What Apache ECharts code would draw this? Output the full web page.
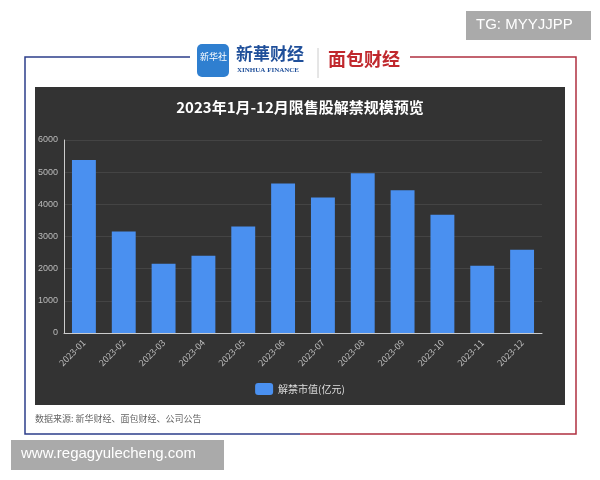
<!DOCTYPE html>
<html><head><meta charset="utf-8">
<script src="https://cdn.jsdelivr.net/npm/echarts@6/dist/echarts.min.js"></script>
<style>html,body{margin:0;padding:0;background:#fff}#c{width:600px;height:480px}</style>
</head><body><div id="c"></div>
<script>
const categories=['2023-01','2023-02','2023-03','2023-04','2023-05','2023-06','2023-07','2023-08','2023-09','2023-10','2023-11','2023-12'];
const values=[5380,3155,2150,2400,3310,4650,4210,4965,4440,3680,2090,2585];
const seriesName='解禁市值(亿元)';
const chart=echarts.init(document.getElementById('c'));
const F='"Noto Sans CJK SC", sans-serif';
chart.setOption({
  backgroundColor:'#fff',
  animation:false,
  title:{text:'2023年1月-12月限售股解禁规模预览',left:'center',top:95,textStyle:{color:'#fff',fontSize:15,fontWeight:'bold',fontFamily:F}},
  graphic:[
    {type:'polyline',shape:{points:[[190,57],[25,57],[25,434],[300,434]]},style:{stroke:'#2c3e8a',lineWidth:1.5,fill:null}},
    {type:'polyline',shape:{points:[[410,57],[576,57],[576,434],[300,434]]},style:{stroke:'#b03040',lineWidth:1.5,fill:null}},
    {type:'rect',z:-1,shape:{x:35,y:87,width:530,height:318},style:{fill:'#333333'}},
    {type:'rect',shape:{x:197,y:44,width:32,height:33,r:5},style:{fill:'#2f7fd0'}},
    {type:'text',x:200,y:52,style:{text:'新华社',fill:'#fff',font:'9px '+F}},
    {type:'text',x:236,y:45,style:{text:'新華财经',fill:'#1f4f9a',font:'bold 17px '+F}},
    {type:'text',x:237,y:67,style:{text:'XINHUA FINANCE',fill:'#1f4f9a',font:'bold 7px serif'}},
    {type:'line',shape:{x1:318,y1:48,x2:318,y2:78},style:{stroke:'#ccc'}},
    {type:'text',x:328,y:50,style:{text:'面包财经',fill:'#c0282d',font:'bold 18px '+F}},
    {type:'rect',shape:{x:466,y:11,width:125,height:29},style:{fill:'#aaaaaa'}},
    {type:'text',x:476,y:17,style:{text:'TG: MYYJJPP',fill:'#fff',font:'15px "Liberation Sans"'}},
    {type:'rect',shape:{x:11,y:440,width:213,height:30},style:{fill:'#aaaaaa'}},
    {type:'text',x:21,y:446,style:{text:'www.regagyulecheng.com',fill:'#fff',font:'15px "Liberation Sans"'}},
    {type:'text',x:35,y:414,style:{text:'数据来源: 新华财经、面包财经、公司公告',fill:'#666',font:'9px '+F}}
  ],
  legend:{data:[seriesName],top:378,left:'center',itemWidth:18,itemHeight:12,textStyle:{color:'#ddd',fontSize:10,fontFamily:F}},
  grid:{left:64,right:58,top:140,bottom:147},
  xAxis:{type:'category',data:categories,axisLine:{lineStyle:{color:'#ccc'}},axisTick:{lineStyle:{color:'#ccc'}},
    axisLabel:{color:'#bbb',fontSize:9,rotate:45,interval:0,fontFamily:F}},
  yAxis:{type:'value',min:0,max:6000,interval:1000,axisLine:{show:true,lineStyle:{color:'#ccc'}},
    axisLabel:{color:'#bbb',fontSize:9,margin:6,formatter:v=>String(v)},splitLine:{lineStyle:{color:'#444'}}},
  series:[{name:seriesName,type:'bar',data:values,barWidth:'60%',itemStyle:{color:'#4a90f0'}}]
});
</script></body></html>
